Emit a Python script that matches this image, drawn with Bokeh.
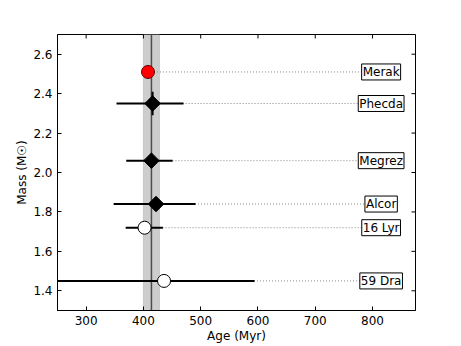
import math
from bokeh.plotting import figure
from bokeh.models import (ColumnDataSource, FixedTicker, BoxAnnotation, Span, Range1d,
                          PrintfTickFormatter)
from bokeh.core.properties import value
from bokeh.embed import file_html
from bokeh.resources import INLINE

# ---- data ----
names = ["Merak", "Phecda", "Megrez", "Alcor", "16 Lyr", "59 Dra"]
age = [408, 416, 414, 422, 402, 436]
age_lo = [408, 353, 370, 348, 369, 150]
age_hi = [408, 470, 451, 491, 434, 594]
mass = [2.51, 2.35, 2.06, 1.84, 1.72, 1.45]
mass_lo = [2.51, 2.29, 2.06, 1.84, 1.72, 1.45]
mass_hi = [2.51, 2.41, 2.06, 1.84, 1.72, 1.45]
kind = ["red", "diamond", "diamond", "diamond", "open", "open"]
band_lo, band_mid, band_hi = 400, 414, 428
label_x = [815] * 6
x_ticks = [300, 400, 500, 600, 700, 800]
y_ticks = [1.4, 1.6, 1.8, 2.0, 2.2, 2.4, 2.6]
x_min, x_max = 250, 875
y_min, y_max = 1.3, 2.7

FONT = "DejaVu Sans"

p = figure(frame_width=358, frame_height=276, output_backend="svg", toolbar_location=None,
           x_range=Range1d(x_min, x_max), y_range=Range1d(y_min, y_max),
           min_border_left=57, min_border_top=34, min_border_right=38, min_border_bottom=30)
p.xgrid.visible = False
p.ygrid.visible = False
p.outline_line_color = "black"
p.outline_line_width = 1
p.background_fill_color = "white"
p.border_fill_color = "white"

# band
p.add_layout(BoxAnnotation(left=band_lo, right=band_hi, fill_color="#cdcdcd", fill_alpha=1,
                           line_color="#888888", line_width=1, level="underlay"))
p.add_layout(Span(location=band_mid, dimension="height", line_color="#4d4d4d",
                  line_width=1.5, level="underlay"))

src = ColumnDataSource(dict(name=names, age=age, age_lo=age_lo, age_hi=age_hi, mass=mass,
                            mass_lo=mass_lo, mass_hi=mass_hi, lx=label_x))

# dotted guide lines
p.segment(x0="age", y0="mass", x1="lx", y1="mass", source=src, line_color="#888888",
          line_dash="1 2", line_width=1)
# error bars
p.segment(x0="age_lo", y0="mass", x1="age_hi", y1="mass", source=src, line_color="black",
          line_width=2)
p.segment(x0="age", y0="mass_lo", x1="age", y1="mass_hi", source=src, line_color="black",
          line_width=2)

def sub(k):
    idx = [i for i, t in enumerate(kind) if t == k]
    return ColumnDataSource(dict(age=[age[i] for i in idx], mass=[mass[i] for i in idx]))

p.scatter("age", "mass", source=sub("diamond"), marker="square", size=11, angle=math.pi / 4,
          fill_color="black", line_color="black", line_width=1)
p.scatter("age", "mass", source=sub("open"), marker="circle", size=13,
          fill_color="white", line_color="black", line_width=1)
p.scatter("age", "mass", source=sub("red"), marker="circle", size=13,
          fill_color="#ff0000", line_color="#660000", line_width=1)

p.text(x="lx", y="mass", text="name", source=src, text_align="center",
       text_baseline="middle", text_font=value(FONT), text_font_size="12px",
       background_fill_color="white", border_line_color="black",
       border_line_width=1, padding=1)

# inward tick marks on the top and right edges (clipped to the frame)
p.scatter(x=x_ticks, y=[y_max] * len(x_ticks), marker="dash", size=8, angle=math.pi / 2,
          line_color="black", line_width=1)
p.scatter(x=[x_max] * len(y_ticks), y=y_ticks, marker="dash", size=8,
          line_color="black", line_width=1)

for ax in p.xaxis + p.yaxis:
    ax.major_tick_in = 4
    ax.major_tick_out = 0
    ax.minor_tick_in = 0
    ax.minor_tick_out = 0
    ax.axis_line_color = "black"
    ax.major_tick_line_color = "black"
    ax.major_label_text_font = FONT
    ax.major_label_text_font_size = "12px"
    ax.major_label_text_color = "black"
    ax.axis_label_text_font = FONT
    ax.axis_label_text_font_size = "12px"
    ax.axis_label_text_font_style = "normal"
    ax.axis_label_text_color = "black"
    ax.major_label_standoff = 5

p.xaxis.ticker = FixedTicker(ticks=x_ticks)
p.yaxis.ticker = FixedTicker(ticks=y_ticks)
p.yaxis.formatter = PrintfTickFormatter(format="%.1f")
p.xaxis.axis_label = "Age (Myr)"
p.yaxis.axis_label = "Mass (M\u2609)"
p.xaxis.axis_label_standoff = 1
p.yaxis.axis_label_standoff = 1

open("out.html", "w").write(file_html(p, INLINE))
